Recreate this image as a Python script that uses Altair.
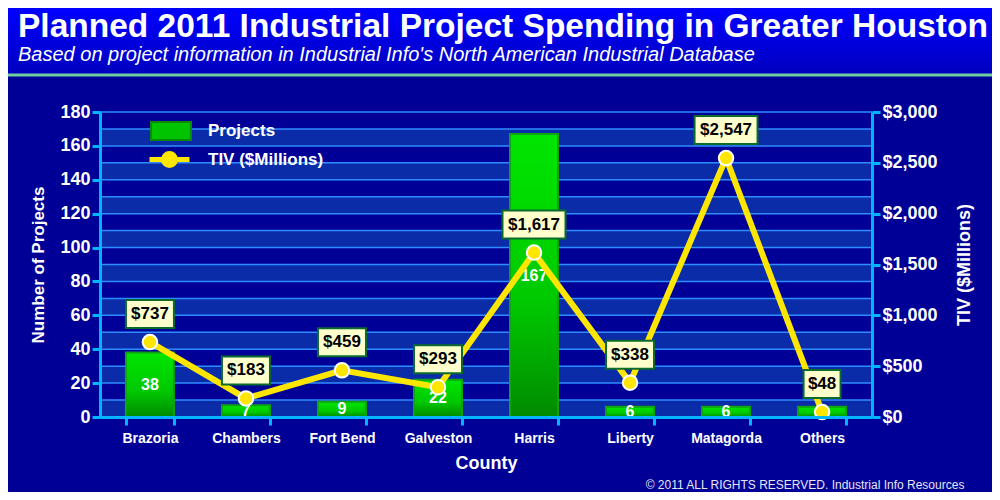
import altair as alt
import pandas as pd

counties = ["Brazoria", "Chambers", "Fort Bend", "Galveston", "Harris",
            "Liberty", "Matagorda", "Others"]
projects = [38, 7, 9, 22, 167, 6, 6, 6]
tiv = [737, 183, 459, 293, 1617, 338, 2547, 48]

left_ticks = [0, 20, 40, 60, 80, 100, 120, 140, 160, 180]
right_ticks = [0, 500, 1000, 1500, 2000, 2500, 3000]
grid_lines = [10, 20, 30, 40, 50, 60, 70, 80, 90, 100, 110, 120, 130, 140,
              150, 160, 170, 180]
band_lows = [0, 20, 40, 60, 80, 100, 120, 140, 160]

FONT = "Liberation Sans"
AXIS_BLUE = "#00b4ff"

df = pd.DataFrame({"County": counties, "Projects": projects, "TIV": tiv})
bands = pd.DataFrame({"lo": band_lows, "hi": [b + 10 for b in band_lows]})
grid = pd.DataFrame({"v": grid_lines})
one = pd.DataFrame({"d": [0]})

x_enc = alt.X("County:N", sort=counties,
              scale=alt.Scale(paddingInner=0.5, paddingOuter=0.27),
              axis=alt.Axis(title="County", labelAngle=0, tickBand="extent",
                            labelFontSize=14, labelPadding=6, zindex=2,
                            titleFontSize=18, titlePadding=9))

left_scale = alt.Scale(domain=[0, 180], nice=False)
left_axis = alt.Axis(title="Number of Projects", values=left_ticks, orient="left",
                     labelFontSize=18, titleFontSize=17, titlePadding=12, zindex=2)
right_scale = alt.Scale(domain=[0, 3000], nice=False)
right_axis = alt.Axis(title="TIV ($Millions)", values=right_ticks, orient="right",
                      format="$,d", labelFontSize=18, titleFontSize=18,
                      titleAngle=270, titleBaseline="top",
                      titlePadding=18, zindex=2)


def left_y(field, axis=False):
    return alt.Y(field, scale=left_scale, axis=left_axis if axis else None)


def right_y(field, axis=False):
    return alt.Y(field, scale=right_scale, axis=right_axis if axis else None)


# backdrop: page gradient and the green-edged panel
page_bg = alt.Chart(one).mark_rect(
    color=alt.LinearGradient(gradient="linear", x1=0, x2=0, y1=0, y2=1,
                             stops=[alt.GradientStop(color="#0000ff", offset=0),
                                    alt.GradientStop(color="#0000b4", offset=0.16),
                                    alt.GradientStop(color="#00008c", offset=1)])
).encode(x=alt.value(-92), x2=alt.value(892), y=alt.value(-104), y2=alt.value(380))

panel = alt.Chart(one).mark_rect(
    fill="#000096", stroke="#6fcf9f", strokeWidth=3, cornerRadius=4
).encode(x=alt.value(-98), x2=alt.value(898), y=alt.value(-37), y2=alt.value(384))

# number of projects (left axis)
band_layer = alt.Chart(bands).mark_rect(color="#0a2ca8").encode(
    y=left_y("lo:Q"), y2="hi:Q")

grid_layer = alt.Chart(grid).mark_rule(color="#2f8cff", strokeWidth=1.5).encode(
    y=left_y("v:Q"))

bars = alt.Chart(df).mark_bar(
    color=alt.LinearGradient(gradient="linear", x1=0, x2=0, y1=0, y2=1,
                             stops=[alt.GradientStop(color="#00e600", offset=0),
                                    alt.GradientStop(color="#00c800", offset=0.6),
                                    alt.GradientStop(color="#008a00", offset=1)]),
    stroke="#11a311", strokeWidth=2
).encode(x=x_enc, y=left_y("Projects:Q", axis=True))

bar_legend = alt.Chart(df).transform_calculate(s="'Projects'").mark_bar(opacity=0).encode(
    x=x_enc,
    y=left_y("Projects:Q"),
    fill=alt.Fill("s:N", scale=alt.Scale(domain=["Projects"], range=["#00c400"]),
                  legend=alt.Legend(title=None, orient="none", legendX=50, legendY=-2,
                                    padding=0,
                                    symbolType="M-1,-0.45H1V0.45H-1Z", symbolSize=1600,
                                    symbolOpacity=1, symbolStrokeColor="#0a8a0a",
                                    symbolStrokeWidth=2, labelOffset=16)))

bar_text = alt.Chart(df).transform_calculate(mid="datum.Projects / 2").mark_text(
    color="white", fontSize=16, fontWeight="bold", font=FONT
).encode(x=x_enc, y=left_y("mid:Q"), text="Projects:Q")

# TIV (right axis)
line = alt.Chart(df).transform_calculate(s="'TIV ($Millions)'").mark_line(
    strokeWidth=6
).encode(
    x=x_enc,
    y=right_y("TIV:Q", axis=True),
    stroke=alt.Stroke("s:N", scale=alt.Scale(domain=["TIV ($Millions)"], range=["#ffe600"]),
                      legend=alt.Legend(title=None, orient="none", legendX=47, legendY=25,
                                        padding=0,
                                        symbolType="M-1,0H1M0.3,0A0.3,0.3,0,1,1,-0.3,0A0.3,0.3,0,1,1,0.3,0Z",
                                        symbolSize=1600, symbolStrokeWidth=5,
                                        symbolFillColor="#ffe600", labelOffset=16)))

points = alt.Chart(df).mark_circle(
    size=210, fill="#ffe600", stroke="white", strokeWidth=2, opacity=1
).encode(x=x_enc, y=right_y("TIV:Q"))

labelled = alt.Chart(df).transform_calculate(
    lbl="'$' + format(datum.TIV, ',')",
    bw="11 * (length(toString(datum.TIV)) + 1) + (datum.TIV >= 1000 ? 8 : 4)")

boxes = labelled.mark_bar(
    fill="#ffffcc", stroke="#0b6b2b", strokeWidth=2, yOffset=-42, y2Offset=-14
).encode(x=x_enc, y=right_y("TIV:Q"), y2="TIV:Q",
         size=alt.Size("bw:Q", scale=None, legend=None))

box_text = labelled.mark_text(
    dy=-28, fontSize=17, fontWeight="bold", color="black", font=FONT
).encode(x=x_enc, y=right_y("TIV:Q"), text="lbl:N")

copyright = alt.Chart(one).mark_text(
    text="\u00a9 2011 ALL RIGHTS RESERVED. Industrial Info Resources",
    fontSize=12, font=FONT, color="#e6e6f0", align="center"
).encode(x=alt.value(705), y=alt.value(373))

chart = alt.layer(
    page_bg, panel, band_layer, grid_layer, bars, bar_legend, bar_text,
    line, points, boxes, box_text, copyright
).resolve_scale(
    y="independent"
).properties(
    width=772, height=305,
    autosize=alt.AutoSizeParams(type="none"),
    padding={"left": 92, "top": 104, "right": 120, "bottom": 75},
    background="#00008c",
    title=alt.TitleParams(
        text="Planned 2011 Industrial Project Spending in Greater Houston",
        subtitle="Based on project information in Industrial Info's North American Industrial Database",
        anchor="start", frame="group", dx=-82, offset=-58,
        font=FONT, fontSize=33.5, fontWeight="bold", color="white",
        subtitleFont=FONT, subtitleFontSize=20, subtitleFontStyle="italic",
        subtitleColor="white", subtitlePadding=1)
).configure_view(stroke=None).configure_axis(
    grid=False, domainColor=AXIS_BLUE, domainWidth=3, tickColor=AXIS_BLUE,
    tickWidth=3, tickSize=8, labelColor="white", titleColor="white",
    labelFont=FONT, titleFont=FONT, labelFontWeight="bold", titleFontWeight="bold"
).configure_legend(
    labelColor="white", labelFont=FONT, labelFontSize=17, labelFontWeight="bold"
)

chart.save("out.html", embed_options={"renderer": "svg", "actions": False})
